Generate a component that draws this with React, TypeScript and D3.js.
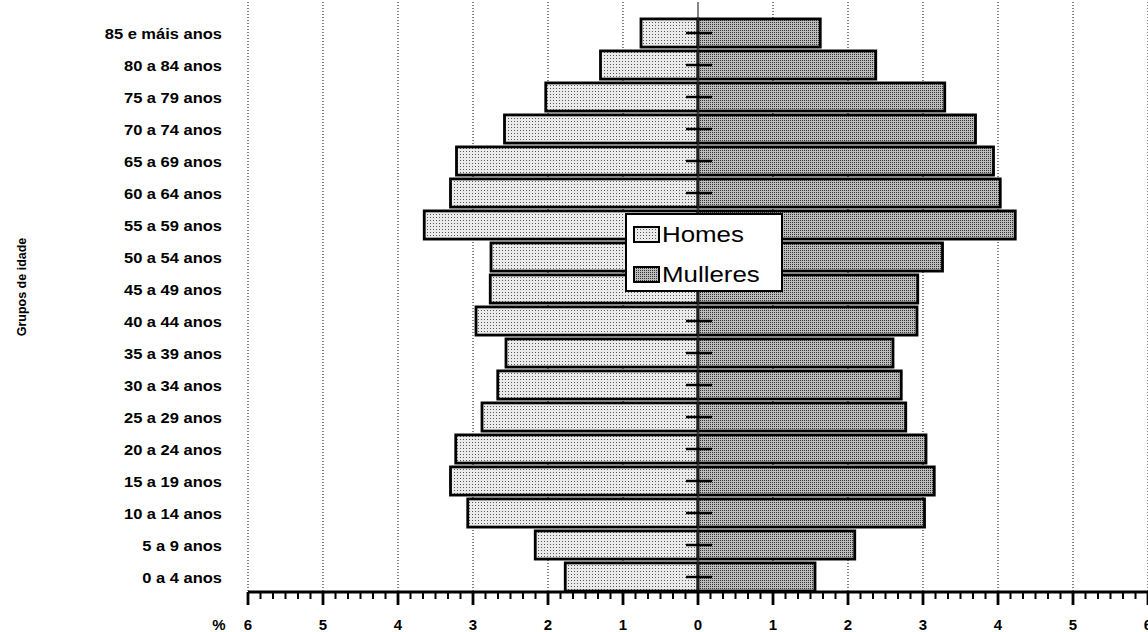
import React from 'react';
import * as d3 from 'd3';

// age groups, bottom to top
const groups: string[] = [
  '0 a 4 anos', '5 a 9 anos', '10 a 14 anos', '15 a 19 anos', '20 a 24 anos',
  '25 a 29 anos', '30 a 34 anos', '35 a 39 anos', '40 a 44 anos', '45 a 49 anos',
  '50 a 54 anos', '55 a 59 anos', '60 a 64 anos', '65 a 69 anos', '70 a 74 anos',
  '75 a 79 anos', '80 a 84 anos', '85 e máis anos',
];

// percent of population per group
const homes: number[] = [1.77, 2.17, 3.07, 3.30, 3.23, 2.88, 2.67, 2.56, 2.96, 2.77, 2.76, 3.65, 3.30, 3.22, 2.58, 2.03, 1.30, 0.76];
const mulleres: number[] = [1.56, 2.09, 3.02, 3.15, 3.04, 2.77, 2.71, 2.60, 2.92, 2.93, 3.26, 4.23, 4.03, 3.94, 3.70, 3.29, 2.37, 1.63];

const tickValues: number[] = [-6, -5, -4, -3, -2, -1, 0, 1, 2, 3, 4, 5, 6];

const W = 1148;
const H = 632;
const FONT = '"Liberation Sans", Arial, sans-serif';

const App = () => {
  // one scale for both sides, labels show the absolute value
  const x = d3.scaleLinear().domain([-6, 6]).range([248, 1148]);
  const y = d3.scaleBand<string>()
    .domain([...groups].reverse())
    .range([17, 593])
    .paddingInner(0.12)
    .paddingOuter(0.06);
  const axisY = 592;
  // minor ticks every sixth of a unit
  const minorTicks = d3.range(-36, 37).map(i => i / 6);

  return (
    <svg width={W} height={H} style={{ position: 'absolute', left: 0, top: 0, background: '#fff' }}>
      <defs>
        <pattern id="patHomes" width={3} height={3} patternUnits="userSpaceOnUse">
          <rect width={3} height={3} fill="#ebebeb" />
          <rect x={1} y={1} width={1} height={1} fill="#555" />
        </pattern>
        <pattern id="patMulleres" width={2} height={2} patternUnits="userSpaceOnUse">
          <rect width={2} height={2} fill="#bdbdbd" />
          <rect x={0} y={0} width={1} height={1} fill="#333" />
        </pattern>
      </defs>

      {/* dotted vertical grid */}
      {tickValues.filter(v => v !== 0).map(v => (
        <line key={'g' + v} x1={x(v)} x2={x(v)} y1={2} y2={axisY}
          stroke="#333" strokeWidth={1.2} strokeDasharray="1,2" />
      ))}

      {/* bars */}
      {groups.map((g, i) => {
        const y0 = y(g) as number;
        return (
          <g key={g}>
            <rect x={x(-homes[i])} y={y0} width={x(0) - x(-homes[i])} height={y.bandwidth()}
              fill="url(#patHomes)" stroke="#000" strokeWidth={2.8} />
            <rect x={x(0)} y={y0} width={x(mulleres[i]) - x(0)} height={y.bandwidth()}
              fill="url(#patMulleres)" stroke="#000" strokeWidth={2.8} />
          </g>
        );
      })}

      {/* centre line and stubs */}
      <line x1={x(0)} x2={x(0)} y1={2} y2={axisY} stroke="#333" strokeWidth={1.2} />
      {groups.map(g => {
        const cy = (y(g) as number) + y.bandwidth() / 2;
        return <line key={'s' + g} x1={x(0) - 12} x2={x(0) + 14} y1={cy} y2={cy} stroke="#000" strokeWidth={2.5} />;
      })}

      {/* category labels, slightly stretched like the scan */}
      {groups.map(g => (
        <text key={'l' + g}
          transform={`translate(222,${(y(g) as number) + y.bandwidth() / 2 + 5.5}) scale(1.1,1)`}
          textAnchor="end" fontFamily={FONT} fontWeight="bold" fontSize={15} fill="#000">{g}</text>
      ))}

      <text transform="translate(26,287) rotate(-90)" textAnchor="middle"
        fontFamily={FONT} fontWeight="bold" fontSize={12.5} fill="#000">Grupos de idade</text>

      {/* x axis */}
      <line x1={x(-6)} x2={x(6)} y1={axisY} y2={axisY} stroke="#000" strokeWidth={3} />
      {minorTicks.map(v => (
        <line key={'m' + v} x1={x(v)} x2={x(v)} y1={axisY} y2={axisY + 7} stroke="#000" strokeWidth={2} />
      ))}
      {tickValues.map(v => (
        <g key={'t' + v}>
          <line x1={x(v)} x2={x(v)} y1={axisY} y2={axisY + 13} stroke="#000" strokeWidth={2.8} />
          <text x={x(v)} y={axisY + 38} textAnchor="middle" fontFamily={FONT} fontWeight="bold" fontSize={15} fill="#000">
            {Math.abs(v)}
          </text>
        </g>
      ))}
      <text x={219} y={axisY + 38} textAnchor="middle" fontFamily={FONT} fontWeight="bold" fontSize={15} fill="#000">%</text>

      {/* legend */}
      <g>
        <rect x={626} y={214} width={156} height={77} fill="#fff" stroke="#000" strokeWidth={2} />
        <rect x={634} y={227} width={25} height={15} fill="url(#patHomes)" stroke="#000" strokeWidth={2} />
        <text transform="translate(662,242) scale(1.15,1)" fontFamily={FONT} fontSize={22.5} fill="#000">Homes</text>
        <rect x={634} y={267} width={25} height={15} fill="url(#patMulleres)" stroke="#000" strokeWidth={2} />
        <text transform="translate(662,282) scale(1.15,1)" fontFamily={FONT} fontSize={22.5} fill="#000">Mulleres</text>
      </g>
    </svg>
  );
};

export default App;
